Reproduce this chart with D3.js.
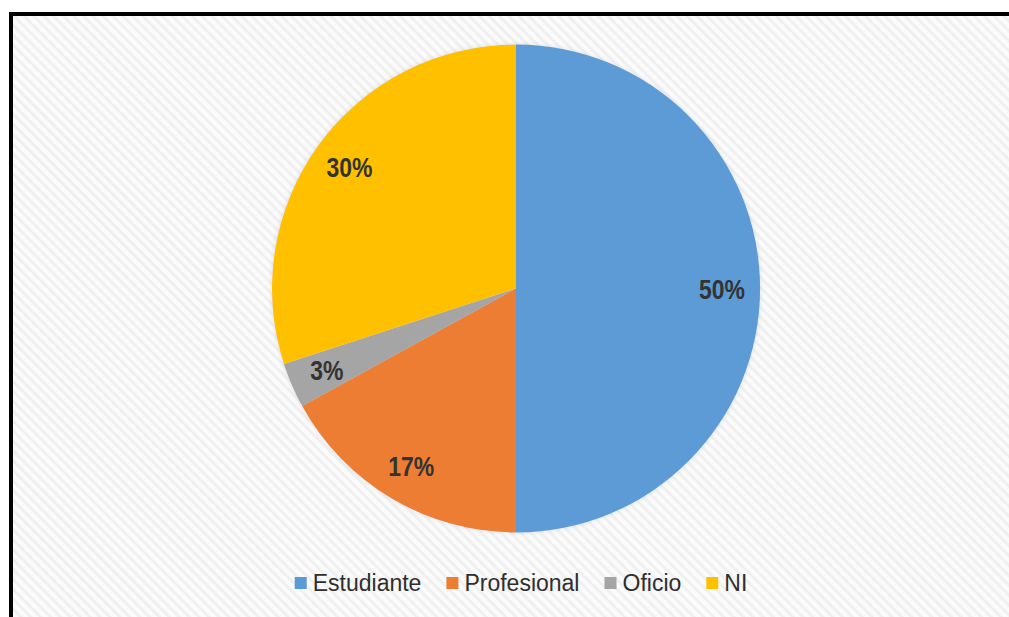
<!DOCTYPE html>
<html>
<head>
<meta charset="utf-8">
<script src="https://cdn.jsdelivr.net/npm/d3@7/dist/d3.min.js"></script>
<style>
  html, body { margin: 0; padding: 0; background: #ffffff; }
  svg { display: block; }
</style>
</head>
<body>
<svg id="chart" width="1009" height="617"></svg>
<script>
const categories = ["Estudiante", "Profesional", "Oficio", "NI"];
const values = [50, 17, 3, 30];
const labels = ["50%", "17%", "3%", "30%"];
const colors = ["#5B9BD5", "#ED7D31", "#A5A5A5", "#FFC000"];

const W = 1009, H = 617;
const svg = d3.select("#chart");
const defs = svg.append("defs");

const pat = defs.append("pattern")
  .attr("id", "hatch")
  .attr("patternUnits", "userSpaceOnUse")
  .attr("width", 7).attr("height", 7)
  .attr("patternTransform", "rotate(45)");
pat.append("rect").attr("width", 7).attr("height", 7).attr("fill", "#fbfbfb");
pat.append("rect").attr("y", 0).attr("width", 7).attr("height", 3).attr("fill", "#f0f0f0");

// background
svg.append("rect").attr("width", W).attr("height", H).attr("fill", "#ffffff");
svg.append("rect").attr("x", 13).attr("y", 16).attr("width", W - 13).attr("height", H - 16).attr("fill", "url(#hatch)");

// border
svg.append("rect").attr("x", 9).attr("y", 12).attr("width", W - 9).attr("height", 4).attr("fill", "#000");
svg.append("rect").attr("x", 9).attr("y", 12).attr("width", 4).attr("height", H - 12).attr("fill", "#000");

// soft glow
const f = defs.append("filter").attr("id", "glow").attr("x", "-10%").attr("y", "-10%").attr("width", "120%").attr("height", "120%");
f.append("feGaussianBlur").attr("in", "SourceAlpha").attr("stdDeviation", 2.5).attr("result", "b");
f.append("feFlood").attr("flood-color", "#9ab").attr("flood-opacity", 0.35);
f.append("feComposite").attr("in2", "b").attr("operator", "in").attr("result", "s");
const m = f.append("feMerge");
m.append("feMergeNode").attr("in", "s");
m.append("feMergeNode").attr("in", "SourceGraphic");

const cx = 516, cy = 288.5, R = 244;
const pie = d3.pie().sort(null).value(d => d)(values);
const arc = d3.arc().innerRadius(0).outerRadius(R);
const labelArc = d3.arc().innerRadius(206).outerRadius(206);

const g = svg.append("g").attr("transform", `translate(${cx},${cy})`);
g.append("g").attr("filter", "url(#glow)")
  .selectAll("path").data(pie).join("path")
  .attr("d", arc)
  .attr("fill", (d, i) => colors[i]);

g.selectAll("text.lbl").data(pie).join("text")
  .attr("class", "lbl")
  .attr("transform", d => { const c = labelArc.centroid(d); return `translate(${c[0]},${c[1]}) scale(0.82,1)`; })
  .attr("text-anchor", "middle")
  .attr("dy", "0.36em")
  .attr("font-family", "'Liberation Sans', Arial, sans-serif")
  .attr("font-weight", "bold")
  .attr("font-size", 28)
  .attr("fill", "#333333")
  .text((d, i) => labels[i]);

// legend
const leg = svg.append("g");
const fs = 23, mk = 12, gapMk = 6, gapItem = 25;
let x = 0;
categories.forEach((c, i) => {
  const it = leg.append("g");
  it.append("rect").attr("x", 0).attr("y", -mk / 2).attr("width", mk).attr("height", mk).attr("fill", colors[i]);
  const t = it.append("text")
    .attr("x", mk + gapMk).attr("y", 0).attr("dy", "0.36em")
    .attr("font-family", "'Liberation Sans', Arial, sans-serif")
    .attr("font-size", fs).attr("fill", "#2e2e2e")
    .text(c);
  const w = t.node().getComputedTextLength();
  it.attr("transform", `translate(${x},0)`);
  x += mk + gapMk + w + gapItem;
});
const total = x - gapItem;
leg.attr("transform", `translate(${521 - total / 2},583)`);
</script>
</body>
</html>
